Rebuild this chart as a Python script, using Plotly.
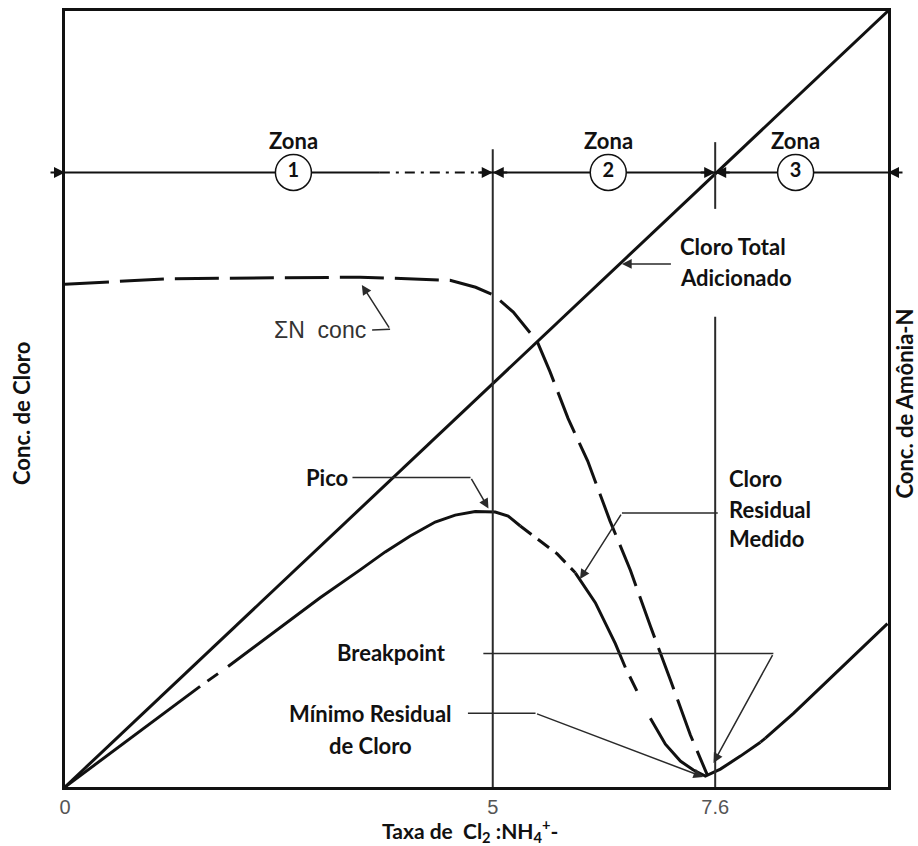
import plotly.graph_objects as go

# Cloro total adicionado (reta)
total_x = [0, 9.62]
total_y = [0, 100]

# Cloro residual medido
resid_x = [0, 1.579, 1.906, 2.982, 3.450, 3.743, 4.035, 4.327, 4.561, 4.795, 5.029, 5.18,
           5.322, 5.556, 5.754, 5.965, 6.199, 6.433, 6.550, 6.842, 7.018, 7.193, 7.345,
           7.485, 7.661, 7.895, 8.129, 8.187, 8.515, 9.614]
resid_y = [0, 12.97, 15.53, 24.39, 27.98, 30.30, 32.35, 34.15, 35.04, 35.49, 35.43, 34.92,
           33.63, 31.71, 30.04, 27.60, 23.75, 18.48, 15.40, 8.86, 5.52, 3.34, 2.18,
           1.41, 2.31, 3.98, 5.78, 6.29, 9.50, 21.05]

# soma de N (amônia)
sn_x = [0, 1.23, 3.45, 4.50, 4.80, 5.01, 5.24, 5.52, 5.67, 5.88, 6.11, 6.37, 6.61, 6.84,
        7.08, 7.31, 7.51]
sn_y = [64.8, 65.5, 65.7, 65.3, 64.4, 63.4, 61.2, 57.4, 53.5, 47.5, 42.0, 34.3, 27.9, 20.8,
        13.7, 6.7, 1.5]

zone_bounds = [0, 5, 7.6, 9.62]
zone_labels = ["1", "2", "3"]
zone_centers = [2.67, 6.35, 8.54]
tick_vals = [0, 5, 7.6]
tick_text = ["0", "5", "7.6"]

FONT = "Lato"
BLACK = "#111111"
THIN = "#2a2a2a"

fig = go.Figure()


def add_line(x, y, width=3, dash="solid", color=BLACK):
    fig.add_trace(go.Scatter(x=x, y=y, mode="lines", hoverinfo="skip",
                             line=dict(color=color, width=width, dash=dash)))


# total line
add_line(total_x, total_y, width=3)

# residual curve, split in solid / dashed pieces like the original drawing
segments = [(0, 1, "solid"), (1, 2, "0px,9px,13px,40px"), (2, 12, "solid"),
            (12, 15, "14px,8px"), (15, 18, "solid"), (18, 19, "0px,10px,16px,40px"),
            (19, 26, "solid"), (26, 27, "10px,7px"), (27, 29, "solid")]
for i0, i1, dash in segments:
    add_line(resid_x[i0:i1 + 1], resid_y[i0:i1 + 1], width=3, dash=dash)

# sum N curve
add_line(sn_x, sn_y, width=3, dash="44px,11px")

# vertical zone lines
add_line([5, 5], [0, 82.2], width=2, color=THIN)
add_line([7.6, 7.6], [74.5, 83.1], width=2, color=THIN)
add_line([7.6, 7.6], [0, 60.6], width=2, color=THIN)

# zone arrow line
zone_y = 79.2
add_line([0, 3.68], [zone_y, zone_y], width=2)
add_line([3.68, 4.9], [zone_y, zone_y], width=2, dash="10px,6px,3px,6px")
add_line([4.9, 9.62], [zone_y, zone_y], width=2)

# leader lines (the arrow part is added as annotation)
leaders = [
    ([7.10], [67.4], (6.51, 67.4)),
    ([3.36, 4.74], [39.9, 39.9], (4.95, 35.9)),
    ([7.63, 6.51], [35.3, 35.3], (6.02, 26.8)),
    ([4.89, 8.28], [17.2, 17.2], (7.58, 3.1)),
    ([4.71, 5.50], [9.5, 9.5], (7.46, 1.3)),
    ([3.59, 3.80], [58.9, 59.0], (3.47, 64.7)),
]
annotations = []
for lx, ly, tip in leaders:
    if len(lx) > 1:
        add_line(lx, ly, width=1.5, color=THIN)
    annotations.append(dict(x=tip[0], y=tip[1], ax=lx[-1], ay=ly[-1], xref="x", yref="y",
                            axref="x", ayref="y", text="", showarrow=True, arrowhead=2,
                            arrowsize=1.3, arrowwidth=1.5, arrowcolor=THIN, standoff=0))

# zone arrow heads, pointing from inside each zone to its boundary
for b in zone_bounds:
    for side in (-1, 1):
        if (b == zone_bounds[0] and side == 1) or (b == zone_bounds[-1] and side == -1):
            continue
        annotations.append(dict(x=b, y=zone_y, ax=side * 16, ay=0, xref="x", yref="y",
                                text="", showarrow=True, arrowhead=2, arrowsize=1.1,
                                arrowwidth=2, arrowcolor=BLACK, standoff=0))

# zone circles
fig.add_trace(go.Scatter(x=zone_centers, y=[zone_y] * 3, mode="markers+text",
                         text=zone_labels, textposition="middle center", hoverinfo="skip",
                         textfont=dict(family=FONT, size=20, color=BLACK, weight="bold"),
                         marker=dict(size=36, color="white", line=dict(color=BLACK, width=1.5))))

bold = dict(family=FONT, size=22, color=BLACK, weight="bold")


def label(text, x, y, xanchor="center"):
    annotations.append(dict(x=x, y=y, xref="x", yref="y", text=text, showarrow=False,
                            xanchor=xanchor, yanchor="middle", font=bold))


for zc in zone_centers:
    label("Zona", zc, 83.3)
label("Cloro Total", 7.16, 69.6, "left")
label("Adicionado", 7.16, 65.7, "left")
label("Cloro", 7.74, 39.7, "left")
label("Residual", 7.74, 35.8, "left")
label("Medido", 7.74, 32.0, "left")
label("Pico", 3.33, 39.9, "right")
label("Breakpoint", 3.82, 17.3)
label("Mínimo Residual", 3.57, 9.5)
label("de Cloro", 3.57, 5.4)
annotations.append(dict(x=2.98, y=58.9, xref="x", yref="y", text="ΣN  conc", showarrow=False,
                        xanchor="center", yanchor="middle",
                        font=dict(family="Liberation Sans", size=23, color="#333333")))

# axis titles
annotations.append(dict(x=-0.052, y=0.481, xref="paper", yref="paper", text="Conc. de Cloro",
                        textangle=-90, showarrow=False, xanchor="center", yanchor="middle",
                        font=bold))
annotations.append(dict(x=1.0205, y=0.494, xref="paper", yref="paper", text="Conc. de Amônia-N",
                        textangle=-90, showarrow=False, xanchor="center", yanchor="middle",
                        font=bold))
annotations.append(dict(x=0.492, y=-0.056, xref="paper", yref="paper",
                        text="Taxa de  Cl<sub>2</sub> :NH<sub>4</sub><sup>+</sup>-",
                        showarrow=False, xanchor="center", yanchor="middle",
                        font=dict(family=FONT, size=21, color=BLACK, weight="bold")))

fig.update_layout(
    width=918, height=846,
    margin=dict(l=65, r=30, t=8, b=59),
    plot_bgcolor="white", paper_bgcolor="white",
    showlegend=False,
    annotations=annotations,
    xaxis=dict(range=[0, 9.62], showgrid=False, zeroline=False, showline=True, mirror=True,
               linecolor=BLACK, linewidth=3, tickvals=tick_vals, ticktext=tick_text,
               ticks="", ticklabelstandoff=0,
               tickfont=dict(family="Liberation Sans", size=20, color="#555555")),
    yaxis=dict(range=[0, 100], showgrid=False, zeroline=False, showline=True, mirror=True,
               linecolor=BLACK, linewidth=3, showticklabels=False, ticks=""),
)

# drop the default body margin so the figure fills the window without scrollbars
fig.write_html("out.html", config={"displayModeBar": False},
               post_script="document.body.style.margin='0';document.body.style.overflow='hidden';")
